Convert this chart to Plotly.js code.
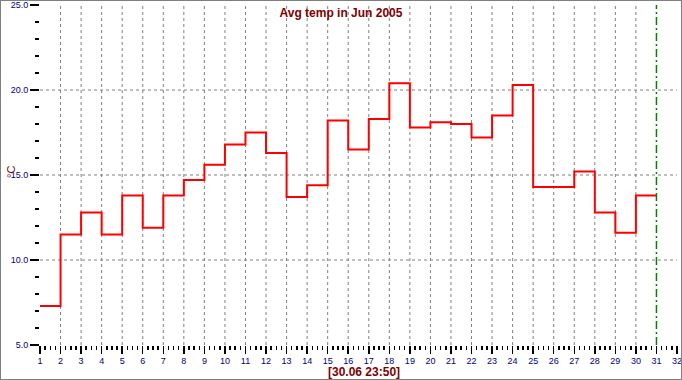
<!DOCTYPE html>
<html>
<head>
<meta charset="utf-8">
<script src="https://cdn.plot.ly/plotly-3.0.1.min.js"></script>
<style>
  html, body { margin: 0; padding: 0; background: #ffffff; }
  #wrap { position: relative; width: 682px; height: 380px; }
  #chart { width: 682px; height: 380px; }
  #frame { position: absolute; left: 0; top: 0; width: 680px; height: 378px;
           border: 1px solid #808080; pointer-events: none; }
</style>
</head>
<body>
<div id="wrap">
  <div id="chart"></div>
  <div id="frame"></div>
</div>
<script>
// ---- data ----
const days = [1,2,3,4,5,6,7,8,9,10,11,12,13,14,15,16,17,18,19,20,21,22,23,24,25,26,27,28,29,30];
const temps = [7.3,11.5,12.8,11.5,13.8,11.9,13.8,14.7,15.6,16.8,17.5,16.3,13.7,14.4,18.2,16.5,18.3,20.4,17.8,18.1,18.0,17.2,18.5,20.3,14.3,14.3,15.2,12.8,11.6,13.8];
const xTickVals = [1,2,3,4,5,6,7,8,9,10,11,12,13,14,15,16,17,18,19,20,21,22,23,24,25,26,27,28,29,30,31,32];
const yTickVals = [5,10,15,20,25];
const xGridVals = [2,3,4,5,6,7,8,9,10,11,12,13,14,15,16,17,18,19,20,21,22,23,24,25,26,27,28,29,30];
const yGridVals = [10,15,20];
const markerDay = 31;
const titleText = 'Avg temp in Jun 2005';
const yLabel = '°C';
const stampText = '[30.06 23:50]';

// step series: last value held until end of the last day
const xs = days.concat([days[days.length - 1] + 1]);
const ys = temps.concat([temps[temps.length - 1]]);

const trace = {
  x: xs, y: ys, type: 'scatter', mode: 'lines',
  line: { shape: 'hv', color: '#ff0000', width: 2 },
  hoverinfo: 'skip'
};

const shapes = [];
xGridVals.forEach(v => shapes.push({
  type: 'line', xref: 'x', yref: 'paper', x0: v, x1: v, y0: 0, y1: 1, layer: 'below',
  line: { color: '#808080', width: 1, dash: '3px,3px' }
}));
yGridVals.forEach(v => shapes.push({
  type: 'line', xref: 'paper', yref: 'y', x0: 0, x1: 1, y0: v, y1: v, layer: 'below',
  line: { color: '#808080', width: 1, dash: '3px,3px' }
}));
shapes.push({
  type: 'line', xref: 'x', yref: 'paper', x0: markerDay, x1: markerDay, y0: 0, y1: 1, layer: 'above',
  line: { color: '#008000', width: 1.5, dash: '8px,3px,2px,3px' }
});

const tickFont = { family: 'Arial, Liberation Sans, sans-serif', size: 9, color: '#000080' };
const redFont = { family: 'Arial, Liberation Sans, sans-serif', size: 12, color: '#800000', weight: 'bold' };

const layout = {
  width: 682, height: 380,
  margin: { l: 40, r: 5, t: 5, b: 35, pad: 0 },
  paper_bgcolor: '#ffffff', plot_bgcolor: '#ffffff',
  showlegend: false,
  title: { text: '<b>' + titleText + '</b>', x: 0.5, xref: 'container', xanchor: 'center',
           y: 1 - 13 / 380, yref: 'container', yanchor: 'middle', font: redFont },
  xaxis: {
    range: [1, 32], tickmode: 'array', tickvals: xTickVals, ticktext: xTickVals.map(String),
    ticks: 'outside', ticklen: 8, tickwidth: 1.5, tickcolor: '#000000', ticklabelstandoff: -1,
    minor: { dtick: 0.25, tick0: 0, ticks: 'outside', ticklen: 4, tickwidth: 1.5, tickcolor: '#000000', showgrid: false },
    showgrid: false, zeroline: false, showline: false, ticklabeloverflow: 'allow',
    tickfont: tickFont, fixedrange: true
  },
  yaxis: {
    range: [5, 25], tickmode: 'array', tickvals: yTickVals, ticktext: yTickVals.map(v => v.toFixed(1)),
    ticks: 'outside', ticklen: 9, tickwidth: 1.5, tickcolor: '#000000',
    minor: { dtick: 1, tick0: 0, ticks: 'outside', ticklen: 4, tickwidth: 1.5, tickcolor: '#000000', showgrid: false },
    showgrid: false, zeroline: false, showline: false, ticklabeloverflow: 'allow',
    tickfont: tickFont, fixedrange: true
  },
  shapes: shapes,
  annotations: [
    { text: yLabel, xref: 'paper', yref: 'paper', x: (11 - 40) / 637, y: (345 - 172) / 340,
      xanchor: 'center', yanchor: 'middle', textangle: -90, showarrow: false,
      font: { family: 'Arial, Liberation Sans, sans-serif', size: 11, color: '#800000' } },
    { text: '<b>' + stampText + '</b>', xref: 'paper', yref: 'paper', x: (364 - 40) / 637, y: -(372 - 345) / 340,
      xanchor: 'center', yanchor: 'middle', showarrow: false, borderpad: 0, font: redFont }
  ]
};

Plotly.newPlot('chart', [trace], layout, { staticPlot: true, displayModeBar: false });
</script>
</body>
</html>
